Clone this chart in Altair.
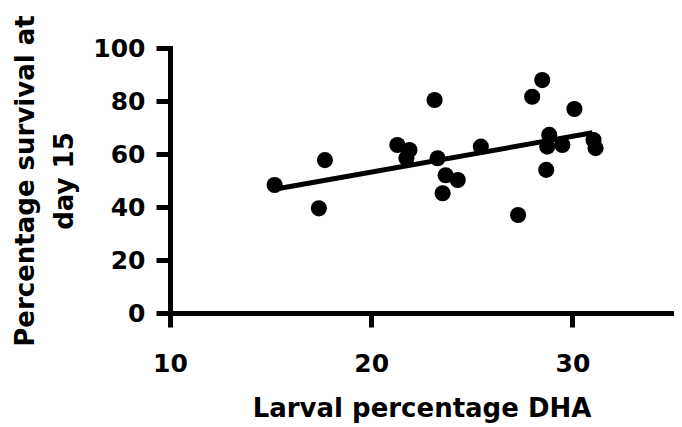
import altair as alt
import pandas as pd

# Larval percentage DHA (x) and percentage survival at day 15 (y)
dha = [15.2, 17.4, 17.7, 21.3, 21.9, 21.75, 23.15, 23.3, 23.7, 24.3, 23.55,
       25.45, 27.3, 28.0, 28.5, 30.1, 28.85, 28.75, 29.5, 28.7, 31.05, 31.15]
survival = [48.3, 39.5, 57.7, 63.4, 61.5, 58.4, 80.4, 58.4, 52.0, 50.2, 45.2,
            62.8, 37.0, 81.6, 87.9, 77.0, 67.2, 62.8, 63.4, 54.0, 65.3, 62.2]

# fitted regression line end points
fit_x = [15.2, 31.0]
fit_y = [46.7, 68.0]

x_ticks = [10, 20, 30]
y_ticks = [0, 20, 40, 60, 80, 100]

pts = pd.DataFrame({"dha": dha, "survival": survival})
fit = pd.DataFrame({"dha": fit_x, "survival": fit_y})

FONT = "DejaVu Sans"

x_enc = alt.X(
    "dha:Q",
    scale=alt.Scale(domain=[10, 35], nice=False, zero=False),
    axis=alt.Axis(
        values=x_ticks,
        title="Larval percentage DHA",
        titleY=103,
        titleBaseline="alphabetic",
        labelPadding=24,
        labelFlush=False,
    ),
)
y_enc = alt.Y(
    "survival:Q",
    scale=alt.Scale(domain=[0, 100], nice=False),
    axis=alt.Axis(
        values=y_ticks,
        title=["Percentage survival at", "day 15"],
        titleAngle=270,
        titleX=-137,
        titleY=132.5,
        titleAlign="center",
        titleBaseline="alphabetic",
        titleLineHeight=39,
        labelPadding=11,
        labelFlush=False,
    ),
)

points = alt.Chart(pts).mark_circle(size=260, color="black", opacity=1).encode(
    x=x_enc, y=y_enc
)
line = alt.Chart(fit).mark_line(color="black", strokeWidth=5).encode(
    x="dha:Q", y="survival:Q"
)

chart = (
    alt.layer(line, points)
    .properties(
        width=503,
        height=265,
        autosize=alt.AutoSizeParams(type="none"),
        padding={"left": 162, "top": 40, "right": 1, "bottom": 112},
        background="white",
    )
    .configure_view(stroke=None)
    .configure_axis(
        grid=False,
        domainColor="black",
        domainWidth=5,
        domainCap="square",
        tickColor="black",
        tickWidth=5,
        tickSize=14,
        labelFont=FONT,
        labelFontSize=25,
        labelFontWeight="bold",
        labelColor="black",
        titleFont=FONT,
        titleFontSize=26,
        titleFontWeight="bold",
        titleColor="black",
    )
)

chart.save("out.html", embed_options={"renderer": "svg", "actions": False})
